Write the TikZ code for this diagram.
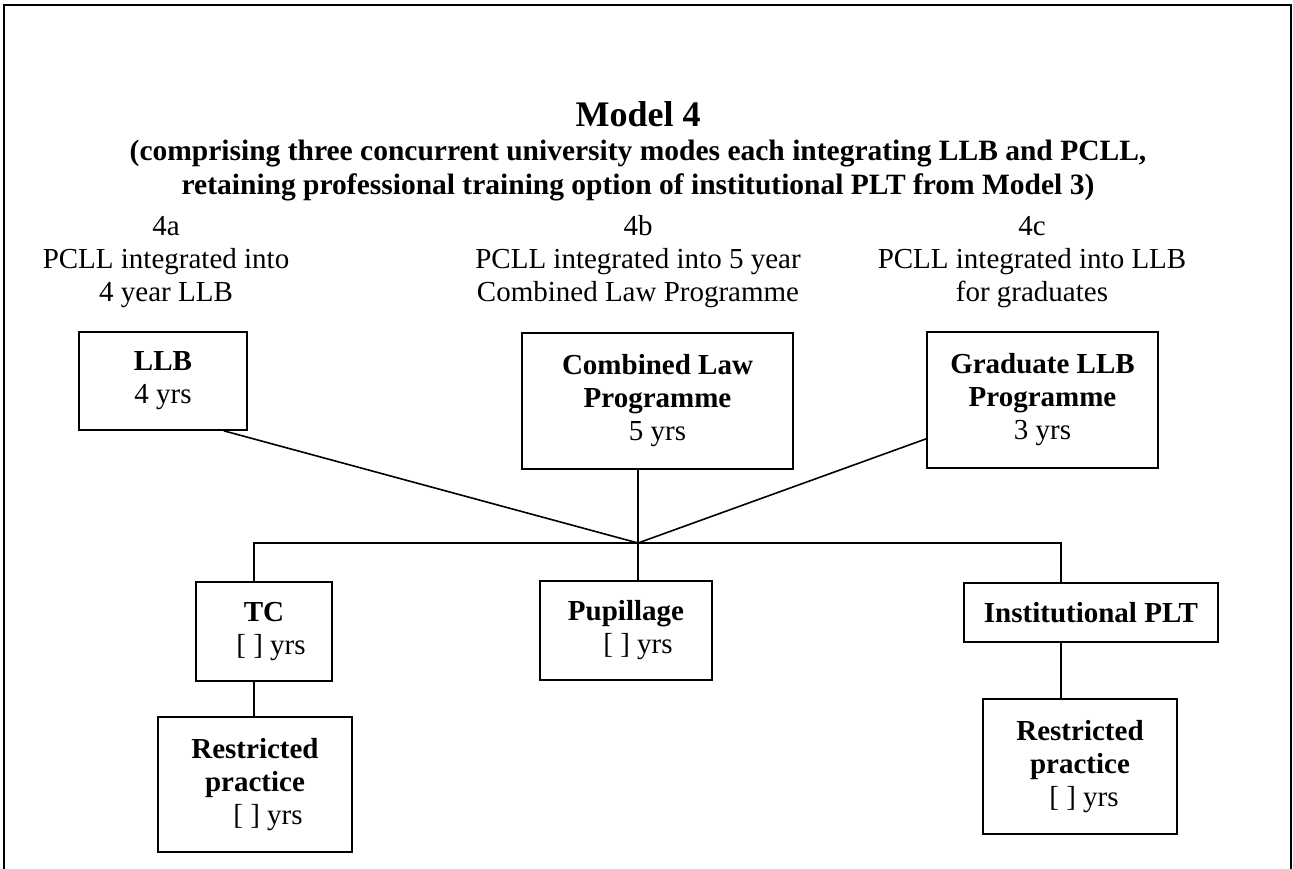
\documentclass[tikz,border=0pt]{standalone}
\usepackage{fontspec}
\setmainfont{Liberation Serif}
\newcommand\bodysize{\fontsize{29}{33}\selectfont}
\newcommand\titlesize{\fontsize{36}{40}\selectfont\bfseries}
\newcommand\subsize{\fontsize{29.5}{34}\selectfont\bfseries}
\tikzset{
  box/.style={draw, line width=1.6pt, align=center, inner sep=0pt, font=\bodysize},
  lbl/.style={align=center, inner sep=0pt, font=\bodysize},
  link/.style={line width=1.6pt},
  frame/.style={line width=2.6pt}
}
\begin{document}
\begin{tikzpicture}[x=1pt, y=-1pt]
\useasboundingbox (0,0) rectangle (1293,868);
% outer frame (open at the bottom)
\draw[frame] (4,900) -- (4,5) -- (1291,5) -- (1291,900);

% headings
\node[font=\titlesize] (title) at (638,114) {Model 4};
\node[font=\subsize, align=center, inner sep=0pt] (sub) at (638,171)
  {(comprising three concurrent university modes each integrating LLB and PCLL,\\
   retaining professional training option of institutional PLT from Model 3)};

% mode labels
\node[lbl] (la) at (166,262) {4a\\PCLL integrated into\\4 year LLB};
\node[lbl] (lb) at (638,262) {4b\\PCLL integrated into 5 year\\Combined Law Programme};
\node[lbl] (lc) at (1032,262) {4c\\PCLL integrated into LLB\\for graduates};

% university programmes
\node[box, minimum width=168pt, minimum height=98pt] (llb) at (163,381)
  {\textbf{LLB}\\4 yrs};
\node[box, minimum width=271pt, minimum height=136pt] (clp) at (657.5,401)
  {\textbf{Combined Law}\\\textbf{Programme}\\5 yrs};
\node[box, minimum width=231pt, minimum height=136pt] (glp) at (1042.5,400)
  {\textbf{Graduate LLB}\\\textbf{Programme}\\3 yrs};

% professional training
\node[box, minimum width=136pt, minimum height=99pt] (tc) at (264,631.5)
  {\textbf{TC}\\\hspace*{14pt}[ ] yrs};
\node[box, minimum width=172pt, minimum height=99pt] (pup) at (626,630.5)
  {\textbf{Pupillage}\\\hspace*{24pt}[ ] yrs};
\node[box, minimum width=254pt, minimum height=59pt] (ipl) at (1091,612.5)
  {\textbf{Institutional PLT}};
\node[box, minimum width=194pt, minimum height=135pt] (rpa) at (255,784.5)
  {\textbf{Restricted}\\\textbf{practice}\\\hspace*{26pt}[ ] yrs};
\node[box, minimum width=194pt, minimum height=135pt] (rpb) at (1080,766.5)
  {\textbf{Restricted}\\\textbf{practice}\\\hspace*{8pt}[ ] yrs};

% junction and bus
\coordinate (hub) at (638,543);
\coordinate (busL) at (254,543);
\coordinate (busR) at (1061,543);

\draw[link] ([xshift=-24pt]llb.south east) -- (hub);
\draw[link] ([yshift=30pt]glp.south west) -- (hub);
\draw[link] (hub |- clp.south) -- (hub) -- (hub |- pup.north);
\draw[link] (busL |- tc.north) -- (busL) -- (busR) -- (busR |- ipl.north);
\draw[link] (busL |- tc.south) -- (busL |- rpa.north);
\draw[link] (busR |- ipl.south) -- (busR |- rpb.north);
\end{tikzpicture}
\end{document}
